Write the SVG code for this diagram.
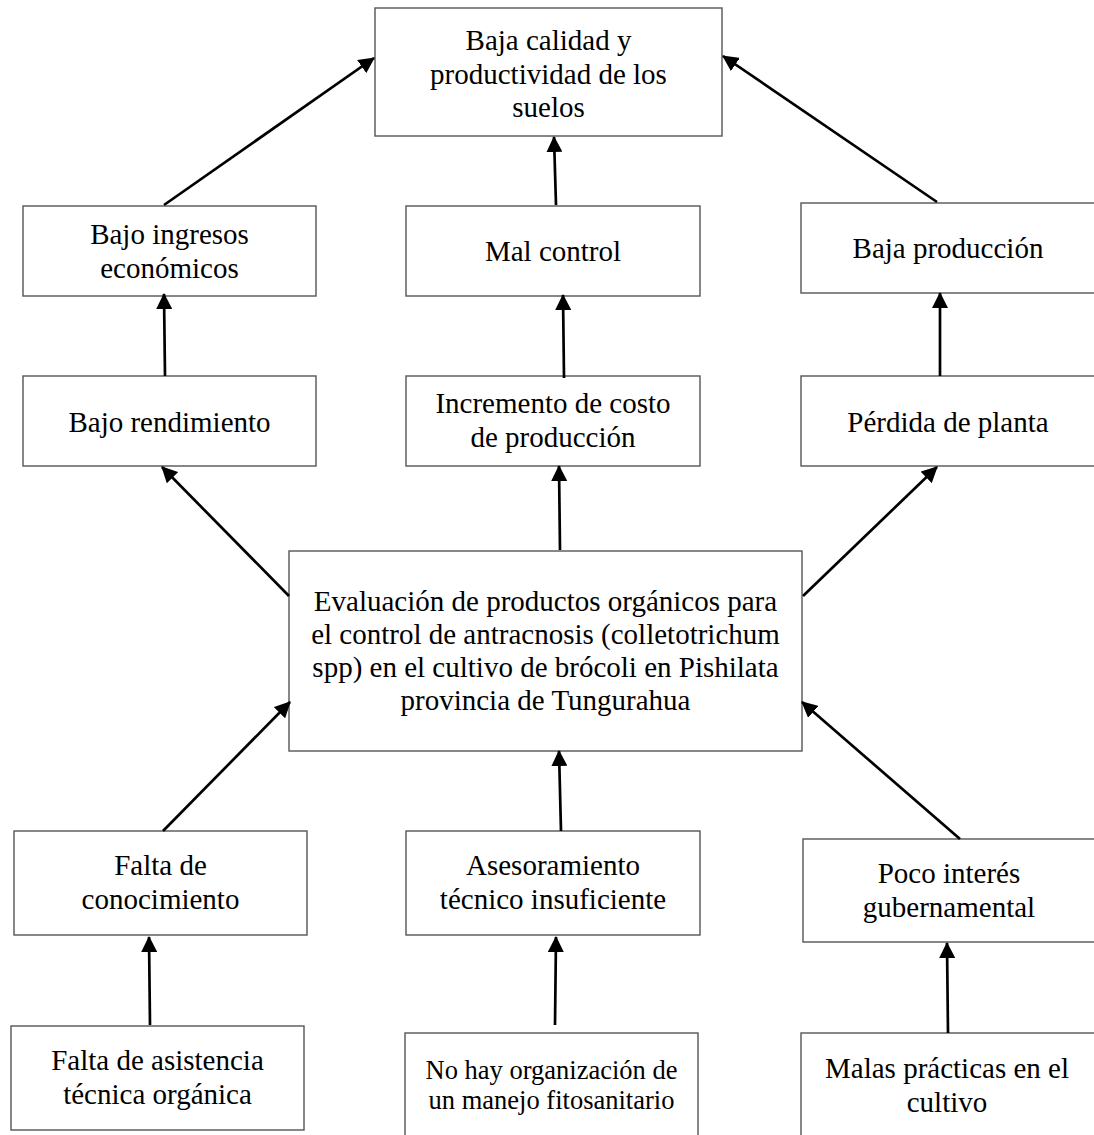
<svg xmlns="http://www.w3.org/2000/svg" width="1094" height="1135" viewBox="0 0 1094 1135">
  <defs>
    <marker id="ah" viewBox="0 0 16 16" refX="15" refY="8" markerWidth="16" markerHeight="16" orient="auto" markerUnits="userSpaceOnUse">
      <path d="M0,0 L16,8 L0,16 Z" fill="#000"/>
    </marker>
    <style>
      .box { fill: #fff; stroke: #555; stroke-width: 1.4; }
      .t { font-family: "Liberation Serif", "Times New Roman", serif; font-size: 29px; fill: #000; text-anchor: middle; }
      .s { font-size: 26.5px; }
      .c { fill: none; stroke: #000; stroke-width: 2.7; marker-end: url(#ah); }
    </style>
  </defs>
  <rect width="1094" height="1135" fill="#fff"/>

  <g id="n-top">
    <rect class="box" x="375" y="8" width="347" height="128"/>
    <text class="t" x="548.5" y="50">Baja calidad y</text>
    <text class="t" x="548.5" y="84">productividad de los</text>
    <text class="t" x="548.5" y="117">suelos</text>
  </g>
  <g id="n-ingresos">
    <rect class="box" x="23" y="206" width="293" height="90"/>
    <text class="t" x="169.5" y="244">Bajo ingresos</text>
    <text class="t" x="169.5" y="278">económicos</text>
  </g>
  <g id="n-malcontrol">
    <rect class="box" x="406" y="206" width="294" height="90"/>
    <text class="t" x="553" y="261">Mal control</text>
  </g>
  <g id="n-bajaprod">
    <rect class="box" x="801" y="203" width="294" height="90"/>
    <text class="t" x="948" y="258">Baja producción</text>
  </g>
  <g id="n-rendimiento">
    <rect class="box" x="23" y="376" width="293" height="90"/>
    <text class="t" x="169.5" y="432">Bajo rendimiento</text>
  </g>
  <g id="n-incremento">
    <rect class="box" x="406" y="376" width="294" height="90"/>
    <text class="t" x="553" y="413">Incremento de costo</text>
    <text class="t" x="553" y="447">de producción</text>
  </g>
  <g id="n-perdida">
    <rect class="box" x="801" y="376" width="294" height="90"/>
    <text class="t" x="948" y="432">Pérdida de planta</text>
  </g>
  <g id="n-evaluacion">
    <rect class="box" x="289" y="551" width="513" height="200"/>
    <text class="t" x="545.5" y="611">Evaluación de productos orgánicos para</text>
    <text class="t" x="545.5" y="644">el control de antracnosis (colletotrichum</text>
    <text class="t" x="545.5" y="677">spp) en el cultivo de brócoli en Pishilata</text>
    <text class="t" x="545.5" y="710">provincia de Tungurahua</text>
  </g>
  <g id="n-conocimiento">
    <rect class="box" x="14" y="831" width="293" height="104"/>
    <text class="t" x="160.5" y="875">Falta de</text>
    <text class="t" x="160.5" y="909">conocimiento</text>
  </g>
  <g id="n-asesoramiento">
    <rect class="box" x="406" y="831" width="294" height="104"/>
    <text class="t" x="553" y="875">Asesoramiento</text>
    <text class="t" x="553" y="909">técnico insuficiente</text>
  </g>
  <g id="n-interes">
    <rect class="box" x="803" y="839" width="292" height="103"/>
    <text class="t" x="949" y="883">Poco interés</text>
    <text class="t" x="949" y="917">gubernamental</text>
  </g>
  <g id="n-asistencia">
    <rect class="box" x="11" y="1026" width="293" height="104"/>
    <text class="t" x="157.5" y="1070">Falta de asistencia</text>
    <text class="t" x="157.5" y="1104">técnica orgánica</text>
  </g>
  <g id="n-organizacion">
    <rect class="box" x="405" y="1033" width="293" height="104"/>
    <text class="t s" x="551.5" y="1079">No hay organización de</text>
    <text class="t s" x="551.5" y="1109">un manejo fitosanitario</text>
  </g>
  <g id="n-practicas">
    <rect class="box" x="801" y="1033" width="294" height="104"/>
    <text class="t" x="947" y="1078">Malas prácticas en el</text>
    <text class="t" x="947" y="1112">cultivo</text>
  </g>

  <g id="connectors">
    <line class="c" x1="164" y1="205" x2="374" y2="58"/>
    <line class="c" x1="556" y1="205" x2="554" y2="137"/>
    <line class="c" x1="937" y1="202" x2="723" y2="56"/>
    <line class="c" x1="165" y1="376" x2="164" y2="294"/>
    <line class="c" x1="564" y1="378" x2="563" y2="295"/>
    <line class="c" x1="940" y1="376" x2="940" y2="293"/>
    <line class="c" x1="289" y1="596" x2="162" y2="467"/>
    <line class="c" x1="560" y1="550" x2="559" y2="466"/>
    <line class="c" x1="803" y1="596" x2="937" y2="467"/>
    <line class="c" x1="163" y1="831" x2="290" y2="702"/>
    <line class="c" x1="561" y1="831" x2="559" y2="751"/>
    <line class="c" x1="960" y1="839" x2="802" y2="702"/>
    <line class="c" x1="150" y1="1025" x2="149" y2="937"/>
    <line class="c" x1="555" y1="1025" x2="556" y2="937"/>
    <line class="c" x1="948" y1="1033" x2="947" y2="943"/>
  </g>
</svg>
